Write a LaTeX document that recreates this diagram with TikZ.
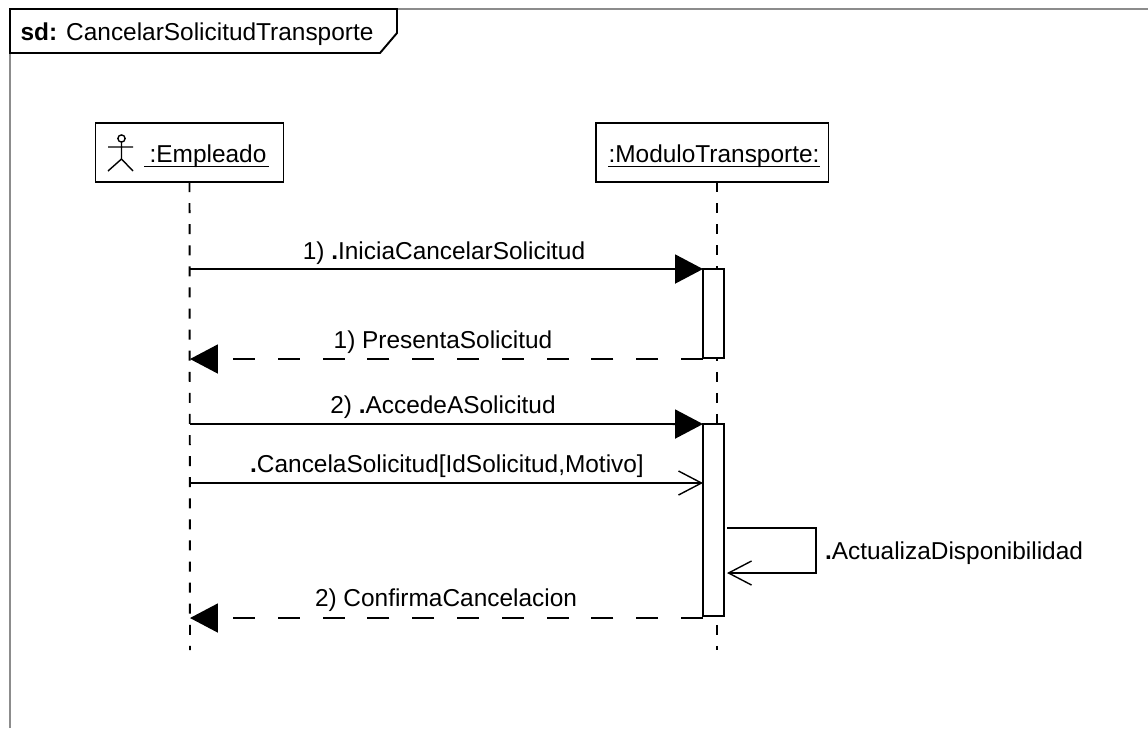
\documentclass[tikz,border=0pt]{standalone}
\usepackage{fontspec}
\setmainfont{Liberation Sans}
\usetikzlibrary{arrows.meta}
\tikzset{
  lifebox/.style={draw,line width=1.1pt,fill=white,minimum height=1.18cm,inner sep=0pt,outer sep=0pt},
  lifeline/.style={line width=1.1pt,dash pattern=on 5.7pt off 6.3pt},
  activation/.style={draw,line width=1.1pt,fill=white,minimum width=.42cm,inner sep=0pt,outer sep=0pt},
  msgcall/.style={line width=1.1pt,-{Triangle[length=.56cm,width=.58cm]}},
  msgreturn/.style={line width=1.1pt,dash pattern=on 12.5pt off 13pt,-{Triangle[length=.56cm,width=.58cm]}},
  msgsync/.style={line width=1.1pt,-{Straight Barb[length=.46cm,width=.48cm,line width=.8pt]}},
  msglabel/.style={inner sep=0pt}
}
\begin{document}
\begin{tikzpicture}[x=.02cm,y=-.02cm,font=\fontsize{13.9}{16}\selectfont]
  \useasboundingbox (0,0) rectangle (1148,728);
  \fill[white] (0,0) rectangle (1148,728);
  % frame
  \draw[black!45,line width=1.1pt] (10,728)--(10,9)--(1148,9);
  \draw[line width=1.1pt,fill=white] (10,9)--(397,9)--(397,33)--(380,53)--(10,53)--cycle;
  \node[msglabel] (title) at (197,34) {\textbf{sd:} CancelarSolicitudTransporte};
  % lifelines
  \coordinate (EmpEnd) at (190,650);
  \coordinate (ModTop) at (717,182);
  \coordinate (ModEnd) at (717,650);
  \node[lifebox,minimum width=3.76cm] (Emp) at (189.5,152.5) {};
  \node[lifebox,minimum width=4.66cm] (Mod) at (712,152.5) {};
  \draw[lifeline] (Emp.south)--(EmpEnd);
  \draw[lifeline] (ModTop)--(ModEnd);
  \node[msglabel] (EmpName) at (208,156) {:Empleado};
  \node[msglabel] (ModName) at (714,156) {:ModuloTransporte:};
  \draw[line width=.9pt] ([xshift=-2.8pt,yshift=-2.4pt]EmpName.base west)--([xshift=1.5pt,yshift=-2.4pt]EmpName.base east);
  \draw[line width=.9pt] ([yshift=-2.4pt]ModName.base west)--([yshift=-2.4pt]ModName.base east);
  % actor
  \draw[line width=.8pt] (121.5,138.5) circle (3.6);
  \draw[line width=.8pt] (121.5,142.5)--(121.5,159) (108,147)--(133,147)
    (108,171)--(121.5,159)--(133,171);
  % activations
  \node[activation,minimum height=1.78cm] (BarA) at (713.5,313.5) {};
  \node[activation,minimum height=3.84cm] (BarB) at (713.5,520) {};
  % messages
  \coordinate (MsgA) at (190,269);
  \coordinate (MsgB) at (190,359);
  \coordinate (MsgC) at (190,424);
  \coordinate (MsgD) at (190,483);
  \coordinate (MsgDe) at (703,483);
  \coordinate (MsgE) at (190,618);
  \coordinate (SelfA) at (727,528);
  \coordinate (SelfB) at (816,528);
  \coordinate (SelfC) at (816,573);
  \coordinate (SelfD) at (727,573);
  \draw[msgcall] (MsgA)--(BarA.north west);
  \draw[msgreturn] (BarA.west |- MsgB)--(MsgB);
  \draw[msgcall] (MsgC)--(BarB.north west);
  \draw[msgsync] (MsgD)--(MsgDe);
  \draw[msgsync] (SelfA)--(SelfB)--(SelfC)--(SelfD);
  \draw[msgreturn] (BarB.west |- MsgE)--(MsgE);
  % labels
  \node[msglabel] (LblA) at (444,253) {1) \textbf{.}IniciaCancelarSolicitud};
  \node[msglabel] (LblB) at (443,342) {1) PresentaSolicitud};
  \node[msglabel] (LblC) at (443,407) {2) \textbf{.}AccedeASolicitud};
  \node[msglabel] (LblD) at (447,466) {\textbf{.}CancelaSolicitud[IdSolicitud,Motivo]};
  \node[msglabel] (LblE) at (954,553) {\textbf{.}ActualizaDisponibilidad};
  \node[msglabel] (LblF) at (446,600) {2) ConfirmaCancelacion};
\end{tikzpicture}
\end{document}
